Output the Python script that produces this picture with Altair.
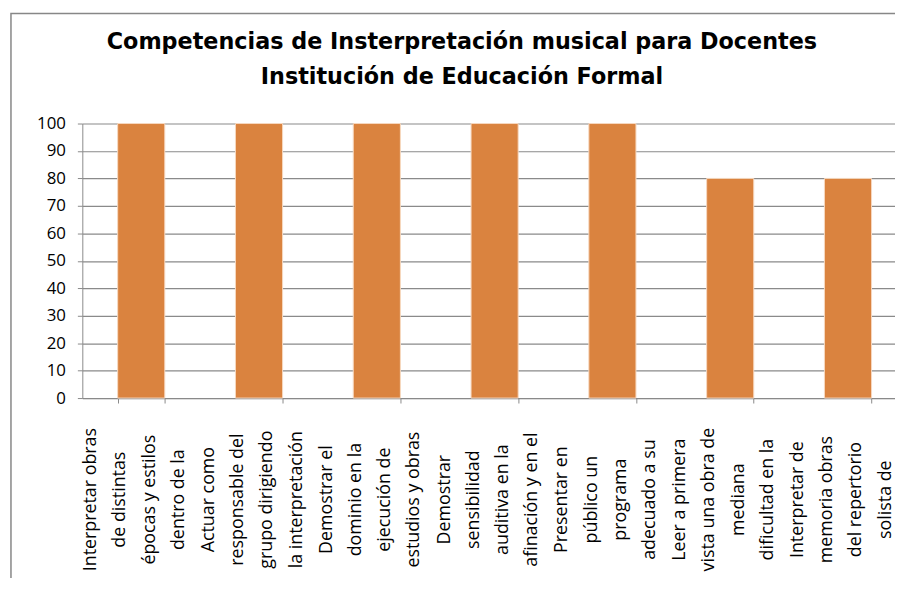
import altair as alt
import pandas as pd

# ---- data ----
label_lines = [
    ["Interpretar obras", "de distintas", "épocas y estilos", "dentro de la"],
    ["Actuar como", "responsable del", "grupo dirigiendo", "la interpretación"],
    ["Demostrar el", "dominio en la", "ejecución de", "estudios y obras"],
    ["Demostrar", "sensibilidad", "auditiva en la", "afinación y en el"],
    ["Presentar en", "público un", "programa", "adecuado a su"],
    ["Leer a primera", "vista una obra de", "mediana", "dificultad en la"],
    ["Interpretar de", "memoria obras", "del repertorio", "solista de"],
]
values = [100, 100, 100, 100, 100, 80, 80]
y_ticks = [0, 10, 20, 30, 40, 50, 60, 70, 80, 90, 100]
title_lines = [
    "Competencias de Insterpretación musical para Docentes",
    "Institución de Educación Formal",
]

categories = ["|".join(l) for l in label_lines]
df = pd.DataFrame({"cat": categories, "val": values})

FONT = "Open Sans"
GRAY = "#8a8a8a"

bars = (
    alt.Chart(df)
    .mark_bar(color="#DA833F", stroke="#f7d9c0", strokeWidth=1, clip=False)
    .encode(
        x=alt.X(
            "cat:N",
            sort=None,
            scale=alt.Scale(paddingInner=0.6, paddingOuter=0.3, round=False),
            axis=alt.Axis(
                title=None,
                labelExpr="split(datum.label, '|')",
                labelAngle=270,
                labelAlign="center",
                labelBaseline="middle",
                labelLineHeight=29.5,
                labelPadding=97,
                labelOffset=-51,
                labelFont=FONT,
                labelFontSize=18,
                labelColor="#000",
                labelLimit=0,
                labelOverlap=False,
                tickBand="extent",
                tickSize=5,
                tickColor=GRAY,
                domainColor=GRAY,
                grid=False,
            ),
        ),
        y=alt.Y(
            "val:Q",
            scale=alt.Scale(domain=[0, 100], nice=False),
            axis=alt.Axis(
                title=None,
                values=y_ticks,
                grid=True,
                gridColor=GRAY,
                gridWidth=1.2,
                tickSize=5,
                tickColor=GRAY,
                domainColor=GRAY,
                labelPadding=12,
                labelFont=FONT,
                labelFontSize=17,
                labelColor="#000",
            ),
        ),
    )
)

border = (
    alt.Chart(pd.DataFrame({"a": [0]}))
    .mark_rect(filled=False, stroke="#878787", strokeWidth=1.5, clip=False)
    .encode(
        x=alt.value(-72),
        x2=alt.value(1000),
        y=alt.value(-111),
        y2=alt.value(900),
    )
)

chart = (
    alt.layer(border, bars)
    .properties(
        width=832,
        height=277,
        autosize=alt.AutoSizeParams(type="none"),
        padding={"left": 75, "top": 114, "right": -12, "bottom": 179},
        title=alt.TitleParams(
            text=title_lines,
            font="DejaVu Sans",
            fontSize=22.5,
            fontWeight="bold",
            color="#000",
            anchor="middle",
            frame="group",
            baseline="alphabetic",
            offset=0,
            lineHeight=35,
            dx=-33,
            dy=94,
        ),
    )
    .configure_view(stroke=None)
)

chart.save("out.html", embed_options={"renderer": "svg", "actions": False})
